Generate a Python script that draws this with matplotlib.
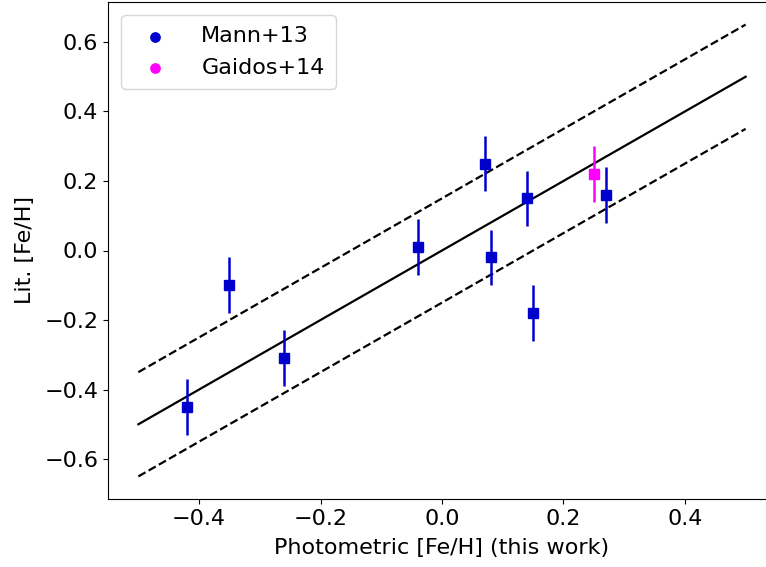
import matplotlib
matplotlib.use("Agg")
import matplotlib.pyplot as plt
import numpy as np

# Mann+13 sample
mann_x = [-0.42, -0.35, -0.26, -0.04, 0.07, 0.08, 0.14, 0.15, 0.27]
mann_y = [-0.45, -0.10, -0.31, 0.01, 0.25, -0.02, 0.15, -0.18, 0.16]
mann_err = [0.08, 0.08, 0.08, 0.08, 0.08, 0.08, 0.08, 0.08, 0.08]

# Gaidos+14 sample
gaidos_x = [0.25]
gaidos_y = [0.22]
gaidos_err = [0.08]

line_x = [-0.5, 0.5]
offset = 0.15

fig = plt.figure(figsize=(7.66, 5.67), dpi=100)
ax = fig.add_axes([108/766, 68/567, 668/766, 497/567])

ax.errorbar(mann_x, mann_y, yerr=mann_err, fmt='s', color='mediumblue',
            ms=7, elinewidth=1.8, capsize=0, zorder=3)
ax.errorbar(gaidos_x, gaidos_y, yerr=gaidos_err, fmt='s', color='magenta',
            ms=7, elinewidth=1.8, capsize=0, zorder=3)

lx = np.array(line_x)
ax.plot(lx, lx, 'k-', lw=1.6)
ax.plot(lx, lx + offset, 'k--', lw=1.6)
ax.plot(lx, lx - offset, 'k--', lw=1.6)

ax.scatter([], [], color='mediumblue', s=45, label='Mann+13')
ax.scatter([], [], color='magenta', s=45, label='Gaidos+14')
ax.legend(loc='upper left', fontsize=16, handletextpad=1.1, borderpad=0.5,
          borderaxespad=0.6)

ax.set_xlim(-0.55, 0.55)
ax.set_ylim(-0.715, 0.715)
ax.set_xticks([-0.4, -0.2, 0.0, 0.2, 0.4])
ax.set_yticks([-0.6, -0.4, -0.2, 0.0, 0.2, 0.4, 0.6])
ax.tick_params(labelsize=16)
ax.set_xlabel('Photometric [Fe/H] (this work)', fontsize=16, labelpad=7)
ax.set_ylabel('Lit. [Fe/H]', fontsize=16, labelpad=7)

fig.savefig('out.png', dpi=100)
